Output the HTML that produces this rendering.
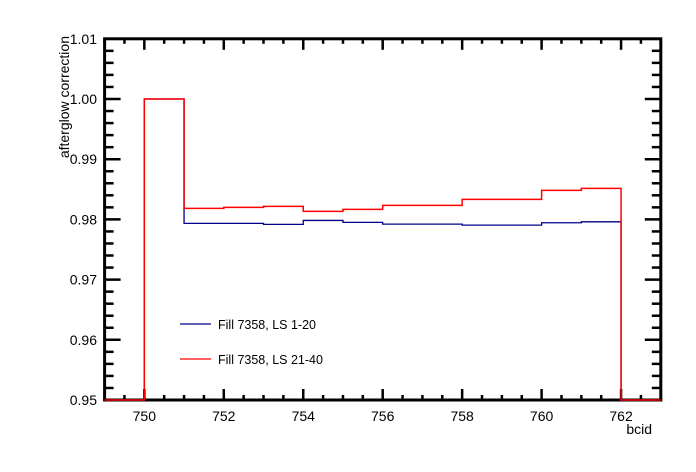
<!DOCTYPE html>
<html><head><meta charset="utf-8"><style>
html,body{margin:0;padding:0;background:#fff;}
svg{display:block;font-family:"Liberation Sans",Arial,sans-serif;}
</style></head><body>
<svg id="chart" width="696" height="472" viewBox="0 0 696 472" xmlns="http://www.w3.org/2000/svg"></svg>
<script>
const binEdgesStart = [750,751,752,753,754,755,756,757,758,759,760,761];
const seriesLS1_20 = [1.0,0.97934,0.97934,0.97917,0.97983,0.9795,0.97922,0.97922,0.97905,0.97905,0.97944,0.9796];
const seriesLS21_40 = [1.0,0.98183,0.98199,0.98216,0.98133,0.98166,0.98233,0.98233,0.98332,0.98332,0.98482,0.98515];
const xTickLabels = [750,752,754,756,758,760,762];
const yTickLabels = ["0.95","0.96","0.97","0.98","0.99","1.00","1.01"];
const legendLabels = ["Fill 7358, LS 1-20","Fill 7358, LS 21-40"];

const X0=104.6,X1=660.8,Y0=400,Y1=38.8;
const xMin=749,xMax=763,yMin=0.95,yMax=1.01;
const sx=v=>X0+(v-xMin)/(xMax-xMin)*(X1-X0);
const sy=v=>Y0-(Math.max(v,yMin)-yMin)/(yMax-yMin)*(Y0-Y1);
const svg=document.getElementById('chart');
const NS='http://www.w3.org/2000/svg';
function mk(t,a,p){const e=document.createElementNS(NS,t);for(const k in a)e.setAttribute(k,a[k]);(p||svg).appendChild(e);return e;}

function histPath(vals){
  let d='M'+sx(xMin)+','+sy(0);
  d+=' L'+sx(binEdgesStart[0])+','+sy(0);
  for(let i=0;i<vals.length;i++){
    d+=' L'+sx(binEdgesStart[i])+','+sy(vals[i])+' L'+sx(binEdgesStart[i]+1)+','+sy(vals[i]);
  }
  d+=' L'+sx(binEdgesStart[vals.length-1]+1)+','+sy(0)+' L'+sx(xMax)+','+sy(0);
  return d;
}

// frame
const fr=mk('rect',{x:X0,y:Y1,width:X1-X0,height:Y0-Y1,fill:'none',stroke:'#000','stroke-width':3});



// x ticks
for(let v=749;v<=763.001;v+=0.5){
  const major=Math.abs(v%2)===0;
  const L=major?11:5;
  mk('line',{x1:sx(v),x2:sx(v),y1:Y0,y2:Y0-L,stroke:'#000','stroke-width':2.5});
  mk('line',{x1:sx(v),x2:sx(v),y1:Y1,y2:Y1+L,stroke:'#000','stroke-width':2.5});
}
xTickLabels.forEach(v=>{
  const t=mk('text',{x:sx(v),y:421,'text-anchor':'middle','font-size':14});
  t.textContent=v;
  
  
});
// y ticks
for(let i=0;i<=30;i++){
  const v=yMin+i*0.002;
  const major=i%5===0;
  const L=major?16:9;
  mk('line',{x1:X0,x2:X0+L,y1:sy(v),y2:sy(v),stroke:'#000','stroke-width':2.5});
  mk('line',{x1:X1,x2:X1-L,y1:sy(v),y2:sy(v),stroke:'#000','stroke-width':2.5});
}
yTickLabels.forEach(s=>{
  const t=mk('text',{x:97,y:sy(parseFloat(s))+5,'text-anchor':'end','font-size':14});
  t.textContent=s;
  
  
});

// series (on top of frame)
const s1=mk('path',{d:histPath(seriesLS1_20),fill:'none',stroke:'#00008b','stroke-width':1.3});


const s2=mk('path',{d:histPath(seriesLS21_40),fill:'none',stroke:'#ff0000','stroke-width':1.5});



const xt=mk('text',{x:652,y:434,'text-anchor':'end','font-size':14});
xt.textContent='bcid';


const yt=mk('text',{x:0,y:0,'text-anchor':'end','font-size':14,transform:'translate(69,36) rotate(-90)'});
yt.textContent='afterglow correction';



// legend
const cols=['#00008b','#ff0000'];
legendLabels.forEach((s,i)=>{
  const y=324+i*35;
  const g=mk('g',{});
  
  
  mk('line',{x1:180,x2:211,y1:y,y2:y,stroke:cols[i],'stroke-width':1.3},g);
  const t=mk('text',{x:218,y:y+5,'font-size':12.5},g);
  t.textContent=s;
});
</script>
</body></html>
